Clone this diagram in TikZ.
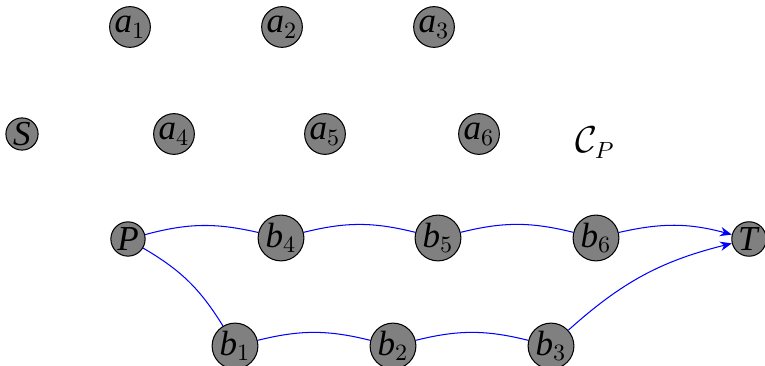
\documentclass[tikz,border=0pt]{standalone}
\usepackage{fontspec}
\setmainfont{Liberation Serif}
\usetikzlibrary{arrows.meta}
\newcommand\lab[2]{\textit{#1}$_{#2}$}
\begin{document}
\begin{tikzpicture}[x=0.385pt,y=-0.385pt,
  every node/.style={font=\fontsize{13.5}{16}\selectfont},
  vert/.style={circle,draw=black,fill=black!50,inner sep=0.4pt,line width=0.4pt},
  edge/.style={draw=blue,line width=0.4pt,bend left=14},
  arr/.style={edge,-{Stealth[length=4.5pt,width=3.6pt]}}]
\useasboundingbox (0,0) rectangle (765,366);
\node[vert] (a1) at (130,27) {\lab{a}{1}};
\node[vert] (a2) at (282,27) {\lab{a}{2}};
\node[vert] (a3) at (434,27) {\lab{a}{3}};
\node[vert] (S) at (22,134) {\textit{S}};
\node[vert] (a4) at (174,134) {\lab{a}{4}};
\node[vert] (a5) at (325,134) {\lab{a}{5}};
\node[vert] (a6) at (479,134) {\lab{a}{6}};
\node (CP) at (595,143) {$\mathcal{C}_P$};
\node[vert] (P) at (128,239) {\textit{P}};
\node[vert] (b4) at (281,238) {\lab{b}{4}};
\node[vert] (b5) at (438,238) {\lab{b}{5}};
\node[vert] (b6) at (596,238) {\lab{b}{6}};
\node[vert] (T) at (749,239) {\textit{T}};
\node[vert] (b1) at (235,346) {\lab{b}{1}};
\node[vert] (b2) at (393,346) {\lab{b}{2}};
\node[vert] (b3) at (551,346) {\lab{b}{3}};
\draw[edge] (P) to (b4);
\draw[edge] (b4) to (b5);
\draw[edge] (b5) to (b6);
\draw[arr] (b6) to (T);
\draw[edge] (P) to (b1);
\draw[edge] (b1) to (b2);
\draw[edge] (b2) to (b3);
\draw[arr] (b3) to (T);
\end{tikzpicture}
\end{document}
